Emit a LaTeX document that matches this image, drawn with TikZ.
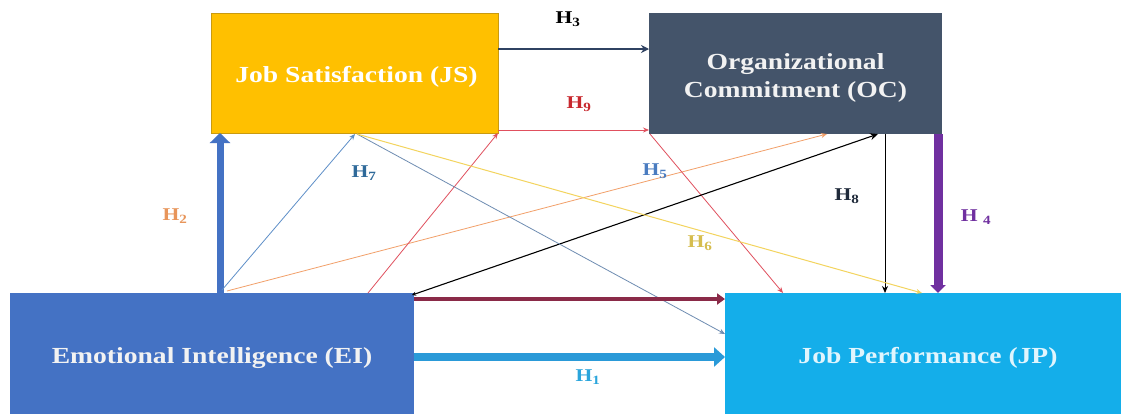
\documentclass[tikz,border=0pt]{standalone}
\usepackage{fontspec}
\setmainfont{Liberation Serif}[FakeStretch=1.2]
\usetikzlibrary{arrows.meta,calc}
\definecolor{jsfill}{HTML}{FFC000}
\definecolor{jsdraw}{HTML}{C99A10}
\definecolor{ocfill}{HTML}{44546A}
\definecolor{eifill}{HTML}{4472C4}
\definecolor{jpfill}{HTML}{14AEEA}
\definecolor{navy}{HTML}{2F4262}
\definecolor{redl}{HTML}{E0505E}
\definecolor{redt}{HTML}{C8282E}
\definecolor{orangel}{HTML}{F2A06A}
\definecolor{orlbl}{HTML}{E8955A}
\definecolor{bluel}{HTML}{5E8FC8}
\definecolor{greyblue}{HTML}{6F8DB2}
\definecolor{h7lbl}{HTML}{2F6A9A}
\definecolor{h5lbl}{HTML}{4A7CC0}
\definecolor{yell}{HTML}{F3D45E}
\definecolor{h6lbl}{HTML}{D6BD4E}
\definecolor{purp}{HTML}{7030A0}
\definecolor{maroon}{HTML}{8A2A48}
\definecolor{h1arr}{HTML}{2A9AD8}
\definecolor{h1lbl}{HTML}{2AA5DC}
\definecolor{h8lbl}{HTML}{1F2A3A}
\begin{document}
\begin{tikzpicture}[x=1pt,y=-1pt,
  box/.style={rectangle, inner sep=0pt, outer sep=0pt, align=center},
  boxtxt/.style={font=\bfseries\fontsize{23}{28}\selectfont, inner sep=0pt, align=center},
  lbl/.style={font=\bfseries\fontsize{18}{21}\selectfont, inner sep=0pt},
  thinarr/.style={line width=0.8pt, -{Stealth[length=6pt,width=5pt]}},
]
\useasboundingbox (0,0) rectangle (1121,413);
\fill[white] (0,0) rectangle (1121,413);

% boxes
\node[box, fill=jsfill, draw=jsdraw, line width=0.8pt, minimum width=287pt, minimum height=120pt] (JS) at (354.5,73) {};
\node[boxtxt, text=white] (JSt) at ($(JS.center)+(2,4)$) {Job Satisfaction (JS)};
\node[box, fill=ocfill, minimum width=293pt, minimum height=121pt] (OC) at (795.5,73.5) {};
\node[boxtxt, text=white!95!black] (OCt) at ($(OC.center)+(0,4)$) {Organizational\\Commitment (OC)};
\node[box, fill=eifill, minimum width=404pt, minimum height=130pt, boxtxt, text=white!95!black] (EI) at (212,358)
      {Emotional Intelligence (EI)};
\node[box, fill=jpfill, minimum width=406pt, minimum height=130pt, boxtxt, text=cyan!12!white] (JP) at (928,358)
      {Job Performance (JP)};

% connectors
\draw[eifill, line width=7pt, -{Triangle[length=10pt,width=20pt]}]
  ($(EI.north west)+(210,0)$) -- ($(JS.south west)+(9,0)$);
\draw[thinarr, bluel] ($(EI.north west)+(212,-3)$) -- ($(JS.south west)+(144,1)$);
\draw[thinarr, orangel] ($(EI.north west)+(217,-2)$) -- ($(OC.south west)+(178,0)$);
\draw[thinarr, redl] ($(EI.north west)+(358,0)$) -- (JS.south east);
\draw[thinarr, redl] ($(JS.south east)+(0,-3)$) -- ($(OC.south west)+(0,-4)$);
\draw[thinarr, redl] ($(OC.south west)+(1,0)$) -- ($(JP.north west)+(58,0)$);
\draw[line width=1.1pt, black, {Stealth[length=4pt,width=4pt]}-{Stealth[length=8pt,width=7pt]}]
  ($(EI.north east)+(-2,2)$) -- ($(OC.south west)+(229,0)$);
\draw[line width=1pt, black, -{Stealth[length=7pt,width=6pt]}]
  ($(OC.south west)+(236,0)$) -- ($(JP.north west)+(160,0)$);
\draw[navy, line width=2.6pt, -{Stealth[length=8pt,width=8pt]}]
  ($(JS.north east)+(0,36)$) -- ($(OC.north west)+(0,36)$);
\draw[thinarr, greyblue] ($(JS.south west)+(146,1)$) -- ($(JP.north west)+(0,41)$);
\draw[thinarr, yell, line width=1pt] ($(JS.south west)+(146,1)$) -- ($(JP.north west)+(197,0)$);
\draw[purp, line width=9pt, -{Triangle[length=8pt,width=15pt]}]
  ($(OC.south east)+(-4,0)$) -- ($(JP.north west)+(213,0)$);
\draw[maroon, line width=4.5pt, -{Triangle[length=8pt,width=11pt]}]
  ($(EI.north east)+(0,6)$) -- ($(JP.north west)+(0,6)$);
\draw[h1arr, line width=8pt, -{Triangle[length=11pt,width=19pt]}]
  ($(EI.north east)+(0,64)$) -- ($(JP.north west)+(0,64)$);

% labels
\node[lbl, text=h1lbl] (l1) at (588,377) {H\textsubscript{1}};
\node[lbl, text=orlbl] (l2) at (175,216) {H\textsubscript{2}};
\node[lbl, text=black] (l3) at (568,19) {H\textsubscript{3}};
\node[lbl, text=purp] (l4) at (976,217) {H\ \textsubscript{4}};
\node[lbl, text=h5lbl] (l5) at (655,171) {H\textsubscript{5}};
\node[lbl, text=h6lbl] (l6) at (700,243) {H\textsubscript{6}};
\node[lbl, text=h7lbl] (l7) at (364,173) {H\textsubscript{7}};
\node[lbl, text=h8lbl] (l8) at (847,196) {H\textsubscript{8}};
\node[lbl, text=redt] (l9) at (579,104) {H\textsubscript{9}};
\end{tikzpicture}
\end{document}
